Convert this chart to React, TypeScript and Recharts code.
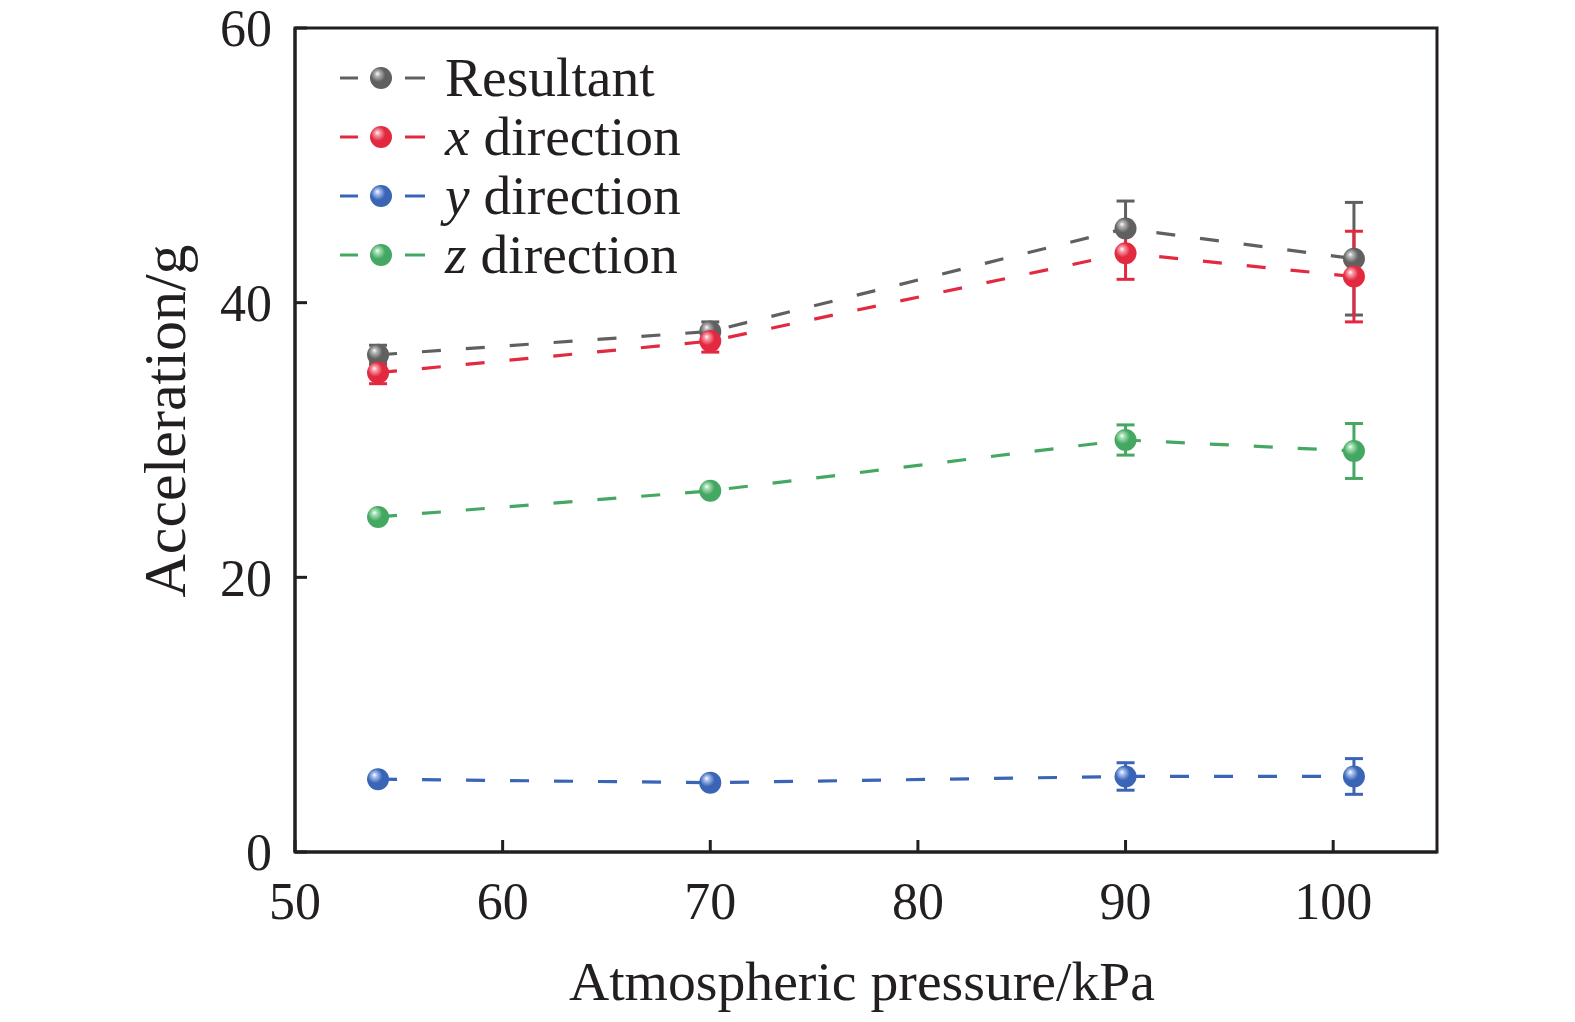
import React from 'react';
import { LineChart, Line, XAxis, YAxis, ErrorBar, Legend, Label, ReferenceArea } from 'recharts';

// atmospheric pressure (kPa) at each test point
const pressure = [54, 70, 90, 101];

const resultant = [36.2, 37.9, 45.4, 43.2];
const resultantErr = [0.7, 0.7, 2.0, 4.1];
const xDirection = [34.9, 37.2, 43.6, 41.9];
const xDirectionErr = [0.8, 0.8, 1.9, 3.3];
const yDirection = [5.3, 5.05, 5.5, 5.5];
const yDirectionErr = [0.3, 0.3, 1.0, 1.3];
const zDirection = [24.4, 26.3, 30.0, 29.2];
const zDirectionErr = [0.3, 0.3, 1.1, 2.0];

const xTicks = [50, 60, 70, 80, 90, 100];
const yTicks = [0, 20, 40, 60];

const SERIES = [
  { key: 'res', err: 'resErr', color: '#606060', grad: 'ball-gray', light: '#b8b8b8', name: 'Resultant', italic: '' },
  { key: 'x', err: 'xErr', color: '#e3293f', grad: 'ball-red', light: '#f7a0ab', name: ' direction', italic: 'x' },
  { key: 'y', err: 'yErr', color: '#3a64b6', grad: 'ball-blue', light: '#a9c2f0', name: ' direction', italic: 'y' },
  { key: 'z', err: 'zErr', color: '#45a862', grad: 'ball-green', light: '#a8e0b8', name: ' direction', italic: 'z' },
];

const data = pressure.map((p, i) => ({
  p,
  res: resultant[i],
  resErr: resultantErr[i],
  x: xDirection[i],
  xErr: xDirectionErr[i],
  y: yDirection[i],
  yErr: yDirectionErr[i],
  z: zDirection[i],
  zErr: zDirectionErr[i],
}));

const FONT = '"Liberation Serif", "Times New Roman", serif';
const AXIS = '#231f20';

const ball = (grad: string) => (props: any) => {
  const { cx, cy, index } = props;
  if (cx == null || cy == null) return <g key={index} />;
  return <circle key={index} cx={cx} cy={cy} r={11} fill={`url(#${grad})`} />;
};

function LegendBox() {
  return (
    <svg width={400} height={230} style={{ overflow: 'visible' }}>
      {SERIES.map((s, i) => {
        const cy = 33 + i * 59;
        return (
          <g key={s.key}>
            <line x1={10} x2={28} y1={cy} y2={cy} stroke={s.color} strokeWidth={3} />
            <circle cx={51} cy={cy} r={11} fill={`url(#${s.grad})`} />
            <line x1={75} x2={95} y1={cy} y2={cy} stroke={s.color} strokeWidth={3} />
            <text x={115} y={cy + 18} fontFamily={FONT} fontSize={55.5} fill="#231f20">
              {s.italic ? <tspan fontStyle="italic">{s.italic}</tspan> : null}
              {s.name}
            </text>
          </g>
        );
      })}
    </svg>
  );
}

export default function App() {
  return (
    <div style={{ position: 'absolute', left: 0, top: 0, width: 1575, height: 1022, background: '#fff' }}>
      <LineChart
        width={1575}
        height={1022}
        data={data}
        margin={{ top: 28, right: 138, bottom: 110, left: 195 }}
      >
        <defs>
          {SERIES.map((s) => (
            <radialGradient key={s.grad} id={s.grad} cx="0.4" cy="0.4" r="0.6" fx="0.33" fy="0.3">
              <stop offset="0%" stopColor="#ffffff" />
              <stop offset="18%" stopColor={s.light} />
              <stop offset="55%" stopColor={s.color} />
              <stop offset="100%" stopColor={s.color} />
            </radialGradient>
          ))}
        </defs>
        <XAxis
          dataKey="p"
          type="number"
          domain={[50, 105]}
          ticks={xTicks}
          height={60}
          axisLine={{ stroke: AXIS, strokeWidth: 3 }}
          tickLine={{ stroke: AXIS, strokeWidth: 3 }}
          tickSize={-12}
          tickMargin={42}
          tick={{ fill: '#231f20', fontSize: 52, fontFamily: FONT }}
          interval={0}
        >
          <Label
            content={() => (
              <text x={862} y={1000} textAnchor="middle" fontFamily={FONT} fontSize={55.7} fill="#231f20">
                Atmospheric pressure/kPa
              </text>
            )}
          />
        </XAxis>
        <YAxis
          type="number"
          domain={[0, 60]}
          ticks={yTicks}
          width={100}
          axisLine={{ stroke: AXIS, strokeWidth: 3 }}
          tickLine={{ stroke: AXIS, strokeWidth: 3 }}
          tickSize={-12}
          tickMargin={35}
          tick={{ fill: '#231f20', fontSize: 52, fontFamily: FONT }}
          interval={0}
        >
          <Label
            content={() => {
              const cy = 421;
              const x = 185;
              return (
                <text x={x} y={cy} transform={`rotate(-90, ${x}, ${cy})`} textAnchor="middle" fontFamily={FONT} fontSize={60} fill="#231f20">
                  Acceleration/g
                </text>
              );
            }}
          />
        </YAxis>
        <ReferenceArea x1={50} x2={105} y1={0} y2={60} fill="none" fillOpacity={0} stroke={AXIS} strokeWidth={3} ifOverflow="visible" />
        <Legend
          layout="vertical"
          align="center"
          verticalAlign="middle"
          wrapperStyle={{ top: 45, left: 330, width: 400, height: 230 }}
          content={() => <LegendBox />}
        />
        {SERIES.map((s) => (
          <Line
            key={s.key}
            dataKey={s.key}
            type="linear"
            stroke={s.color}
            strokeWidth={3.2}
            strokeDasharray="19 25"
            dot={ball(s.grad)}
            activeDot={false}
            isAnimationActive={false}
            legendType="none"
          >
            <ErrorBar dataKey={s.err} direction="y" width={9} strokeWidth={3} stroke={s.color} isAnimationActive={false} />
          </Line>
        ))}
      </LineChart>
    </div>
  );
}
